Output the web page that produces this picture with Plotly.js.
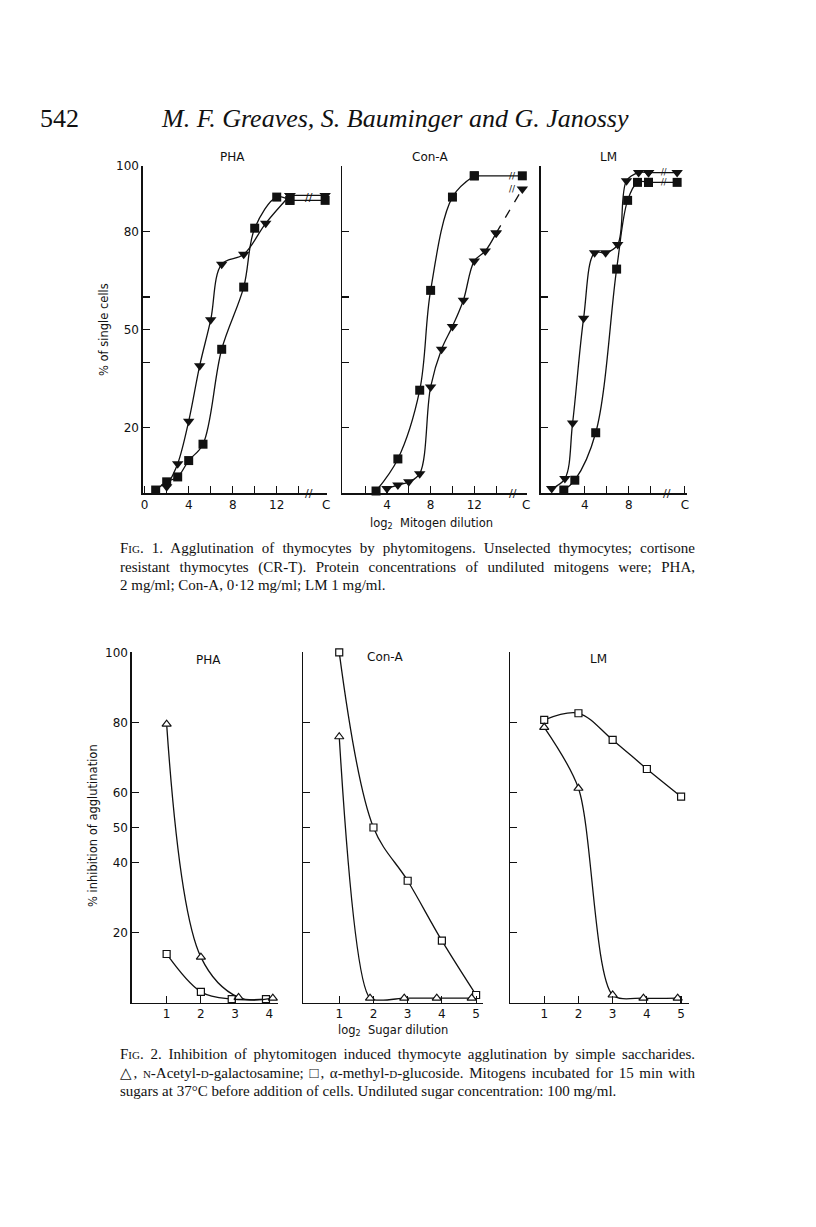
<!DOCTYPE html>
<html>
<head>
<meta charset="utf-8">
<script src="https://cdn.plot.ly/plotly-3.0.1.min.js"></script>
<style>
  body { margin: 0; background: #fff; }
  #page { position: relative; width: 816px; height: 1227px; overflow: hidden; }
  #chart { position: absolute; left: 0; top: 0; width: 816px; height: 1227px; }
  .txt { position: absolute; font-family: "Liberation Serif", "DejaVu Serif", serif; color: #111; }
  .cap { left: 120px; width: 575px; font-size: 15px; line-height: 18.5px; }
  .cap div { text-align: justify; text-align-last: justify; white-space: nowrap; }
  .cap div.last { text-align-last: left; }
  .sc { font-variant: small-caps; }
</style>
</head>
<body>
<div id="page">
  <div id="chart"></div>
  <div class="txt" style="left:40px; top:104px; font-size:26px;">542</div>
  <div class="txt" style="left:162px; top:104px; font-size:26px; font-style:italic;">M. F. Greaves, S. Bauminger and G. Janossy</div>
  <div class="txt cap" style="top:539px;">
    <div>F<span class="sc">ig</span>. 1. Agglutination of thymocytes by phytomitogens. Unselected thymocytes; cortisone</div>
    <div>resistant thymocytes (CR-T). Protein concentrations of undiluted mitogens were; PHA,</div>
    <div class="last">2 mg/ml; Con-A, 0·12 mg/ml; LM 1 mg/ml.</div>
  </div>
  <div class="txt cap" style="top:1045px;">
    <div>F<span class="sc">ig</span>. 2. Inhibition of phytomitogen induced thymocyte agglutination by simple saccharides.</div>
    <div>△, <span class="sc">n</span>-Acetyl-<span class="sc">d</span>-galactosamine; □, α-methyl-<span class="sc">d</span>-glucoside. Mitogens incubated for 15 min with</div>
    <div class="last">sugars at 37°C before addition of cells. Undiluted sugar concentration: 100 mg/ml.</div>
  </div>
</div>
<script>
// Fig. 1 — % of single cells vs log2 mitogen dilution (C = control)
const f1PhaSqX = [1, 2, 3, 4, 5.3, 7, 9, 10, 12, 13.2];
const f1PhaSqY = [1, 3.5, 5, 10, 15, 44, 63, 81, 90.5, 89.5];
const f1PhaTrX = [2, 3, 4, 5, 6, 7, 9, 11, 13.2];
const f1PhaTrY = [2, 9, 22, 39, 53, 70, 73, 82.5, 91];
const f1PhaC = { x: 16.4, sq: 89.5, tr: 91 };

const f1ConSqX = [3, 5, 7, 8, 10, 12];
const f1ConSqY = [0.7, 10.5, 31.5, 62, 90.5, 97];
const f1ConTrX = [4, 5, 6, 7, 8, 9, 10, 11, 12, 13, 14];
const f1ConTrY = [1.5, 2.5, 3.5, 6, 32.5, 44, 51, 59, 71, 74, 79.5];
const f1ConC = { x: 16.4, sq: 97, tr: 93 };

const f1LmTrX = [1, 2.2, 2.9, 3.9, 4.9, 5.9, 7, 7.8, 8.9, 9.8];
const f1LmTrY = [1.5, 4.5, 21.5, 53.5, 73.5, 73.5, 76, 95.5, 98, 98];
const f1LmSqX = [2.1, 3.1, 5, 6.9, 7.9, 8.8, 9.8];
const f1LmSqY = [1, 4, 18.5, 68.5, 89.5, 95, 95];
const f1LmC = { x: 12.4, sq: 95, tr: 98 };

// Fig. 2 — % inhibition of agglutination vs log2 sugar dilution
const f2PhaTrX = [1, 2, 3.1, 4.1];
const f2PhaTrY = [79.5, 13, 1.5, 1.3];
const f2PhaSqX = [1, 2, 2.9, 3.9];
const f2PhaSqY = [13.9, 3.1, 1, 1];

const f2ConSqX = [1, 2, 3, 4, 5];
const f2ConSqY = [100, 50, 34.8, 17.7, 2.2];
const f2ConTrX = [1, 1.9, 2.9, 3.85, 4.87];
const f2ConTrY = [75.9, 1.3, 1.3, 1.3, 1.3];

const f2LmSqX = [1, 2, 3, 4, 5];
const f2LmSqY = [80.7, 82.6, 75, 66.7, 58.8];
const f2LmTrX = [1, 2, 3, 3.9, 4.9];
const f2LmTrY = [78.6, 61.2, 2.2, 1.3, 1.3];

const f1YTicks = [20, 40, 50, 60, 80, 100];
const f1YText = ['20', '', '50', '', '80', '100'];
const f2YTicks = [20, 40, 50, 60, 80, 100];

const W = 816, H = 1227;
const INK = '#111';
const dx = (a, b) => [a / W, b / W];
const dy = (top, bottom) => [1 - bottom / H, 1 - top / H];

function curve(x, y, n, symbol, size, filled, smooth) {
    return {
        x: x, y: y, xaxis: 'x' + n, yaxis: 'y' + n,
        mode: 'lines+markers', cliponaxis: false,
        line: { shape: 'spline', smoothing: smooth || 1, color: INK, width: 1.3 },
        marker: {
            symbol: symbol, size: size, color: filled ? INK : '#fff',
            line: { color: INK, width: filled ? 0 : 1.2 }
        }
    };
}

function tail(x, y, cx, cy, n, symbol, dash) {
    return {
        x: [x[x.length - 1], cx], y: [y[y.length - 1], cy], xaxis: 'x' + n, yaxis: 'y' + n,
        mode: 'lines+markers', cliponaxis: false,
        line: { color: INK, width: 1.3, dash: dash || 'solid' },
        marker: { symbol: symbol, size: symbol === 'square' ? 9 : 10, color: INK }
    };
}

const data = [
    tail(f1PhaSqX, f1PhaSqY, f1PhaC.x, f1PhaC.sq, 1, 'square'),
    tail(f1PhaTrX, f1PhaTrY, f1PhaC.x, f1PhaC.tr, 1, 'triangle-down'),
    curve(f1PhaSqX, f1PhaSqY, 1, 'square', 9, true),
    curve(f1PhaTrX, f1PhaTrY, 1, 'triangle-down', 10, true),

    tail(f1ConSqX, f1ConSqY, f1ConC.x, f1ConC.sq, 2, 'square'),
    tail(f1ConTrX, f1ConTrY, f1ConC.x, f1ConC.tr, 2, 'triangle-down', 'dash'),
    curve(f1ConSqX, f1ConSqY, 2, 'square', 9, true),
    curve(f1ConTrX, f1ConTrY, 2, 'triangle-down', 10, true),

    tail(f1LmSqX, f1LmSqY, f1LmC.x, f1LmC.sq, 3, 'square'),
    tail(f1LmTrX, f1LmTrY, f1LmC.x, f1LmC.tr, 3, 'triangle-down'),
    curve(f1LmSqX, f1LmSqY, 3, 'square', 9, true),
    curve(f1LmTrX, f1LmTrY, 3, 'triangle-down', 10, true),

    curve(f2PhaSqX, f2PhaSqY, 4, 'square', 7, false),
    curve(f2PhaTrX, f2PhaTrY, 4, 'triangle-up', 8, false),
    curve(f2ConSqX, f2ConSqY, 5, 'square', 7, false),
    curve(f2ConTrX, f2ConTrY, 5, 'triangle-up', 8, false, 0.6),
    curve(f2LmSqX, f2LmSqY, 6, 'square', 7, false),
    curve(f2LmTrX, f2LmTrY, 6, 'triangle-up', 8, false, 0.8)
];

const tickFont = { family: 'DejaVu Sans', size: 12, color: INK };
const base = {
    showline: true, linecolor: INK, linewidth: 1.3, ticks: 'inside', ticklen: 7,
    tickwidth: 1.2, tickcolor: INK, showgrid: false, zeroline: false,
    tickfont: tickFont, fixedrange: true
};
const ax = (o) => Object.assign({}, base, o);

const layout = {
    width: W, height: H, margin: { l: 0, r: 0, t: 0, b: 0 },
    paper_bgcolor: '#fff', plot_bgcolor: 'rgba(0,0,0,0)', showlegend: false,
    font: { family: 'DejaVu Sans', color: INK },

    xaxis: ax({ domain: dx(142.7, 327), range: [-0.18, 16.57], anchor: 'y',
        tickvals: [0, 2, 4, 6, 8, 10, 12, 14, 16.5], ticktext: ['0', '', '4', '', '8', '', '12', '', 'C'] }),
    yaxis: ax({ domain: dy(166, 493.3), range: [0, 100], anchor: 'x',
        tickvals: f1YTicks, ticktext: f1YText }),
    xaxis2: ax({ domain: dx(342.3, 526.7), range: [-0.09, 16.8], anchor: 'y2',
        tickvals: [2, 4, 6, 8, 10, 12, 14, 16.75], ticktext: ['', '4', '', '8', '', '12', '', 'C'] }),
    yaxis2: ax({ domain: dy(166, 493.3), range: [0, 100], anchor: 'x2',
        tickvals: f1YTicks, showticklabels: false }),
    xaxis3: ax({ domain: dx(540.7, 686.7), range: [0, 13.27], anchor: 'y3',
        tickvals: [2, 4, 6, 8, 10, 13.1], ticktext: ['', '4', '', '8', '', 'C'] }),
    yaxis3: ax({ domain: dy(166, 493.3), range: [0, 100], anchor: 'x3',
        tickvals: f1YTicks, showticklabels: false }),

    xaxis4: ax({ domain: dx(131.7, 278.3), range: [-0.02, 4.26], anchor: 'y4', tickvals: [1, 2, 3, 4] }),
    yaxis4: ax({ domain: dy(652.3, 1002.7), range: [0, 100], anchor: 'x4', tickvals: f2YTicks }),
    xaxis5: ax({ domain: dx(303.3, 483.3), range: [-0.05, 5.21], anchor: 'y5', tickvals: [1, 2, 3, 4, 5] }),
    yaxis5: ax({ domain: dy(652.3, 1002.7), range: [0, 100], anchor: 'x5', tickvals: f2YTicks, showticklabels: false }),
    xaxis6: ax({ domain: dx(510, 689.3), range: [0, 5.24], anchor: 'y6', tickvals: [1, 2, 3, 4, 5] }),
    yaxis6: ax({ domain: dy(652.3, 1002.7), range: [0, 100], anchor: 'x6', tickvals: f2YTicks, showticklabels: false }),

    annotations: []
};

const A = layout.annotations;
function paperText(text, px, py, size, angle) {
    A.push({ text: text, xref: 'paper', yref: 'paper', x: px / W, y: 1 - py / H,
        xanchor: 'center', yanchor: 'middle',
        showarrow: false, textangle: angle || 0, font: { family: 'DejaVu Sans', size: size, color: INK } });
}
paperText('PHA', 232, 157, 12);
paperText('Con-A', 430, 157, 12);
paperText('LM', 608, 157, 12);
paperText('PHA', 208, 660, 12);
paperText('Con-A', 385, 657, 12);
paperText('LM', 598, 659, 12);
paperText('% of single cells', 104, 330, 11.5, -90);
paperText('% inhibition of agglutination', 93, 826, 11.5, -90);
paperText('log<sub>2</sub>  Mitogen dilution', 431, 523, 11.5);
paperText('log<sub>2</sub>  Sugar dilution', 393, 1030, 11.5);

// axis breaks "//" before the control point
function brk(n, x, y, size) {
    A.push({ text: '//', xref: 'x' + n, yref: 'y' + n, x: x, y: y, showarrow: false,
        xanchor: 'center', yanchor: 'middle',
        font: { family: 'DejaVu Sans', size: size || 11, color: INK } });
}
brk(1, 14.9, 0); brk(1, 14.9, (f1PhaC.sq + f1PhaC.tr) / 2);
brk(2, 15.5, 0); brk(2, 15.5, f1ConC.sq, 9); brk(2, 15.5, f1ConC.tr, 9);
brk(3, 11.5, 0); brk(3, 11.2, f1LmC.sq, 8); brk(3, 11.2, f1LmC.tr, 8);

Plotly.newPlot('chart', data, layout, { staticPlot: true, displayModeBar: false });
</script>
</body>
</html>
